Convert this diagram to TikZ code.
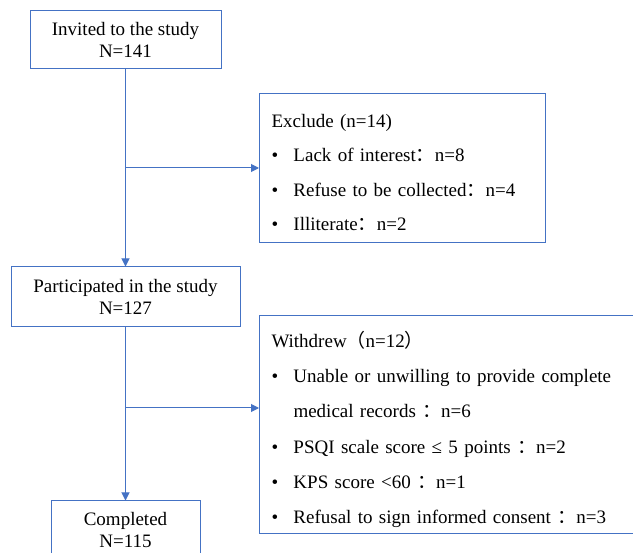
\documentclass[tikz,border=0pt]{standalone}
\usepackage{fontspec}
\setmainfont{Liberation Serif}
\newfontfamily\cjk{Noto Sans CJK SC}
\usetikzlibrary{arrows.meta,positioning}
\definecolor{boxblue}{HTML}{4472C4}
\newcommand{\bul}{\makebox[22pt][l]{\textbullet}}
\newcommand{\cont}{\makebox[22pt][l]{}}
\newcommand{\fc}{{\cjk ：}}
\tikzset{
  flowbox/.style = {draw=boxblue,line width=1pt,align=center,inner sep=0pt,
                    font=\fontsize{19}{22.5}\selectfont},
  sidebox/.style = {draw=boxblue,line width=1pt,align=left,inner xsep=12pt,
                    inner ysep=0pt,anchor=north west},
  flowarr/.style = {-{Triangle[length=8pt,width=8pt]},boxblue,line width=1pt}
}

\begin{document}
\begin{tikzpicture}[x=1pt,y=-1pt]
  \clip (0,0) rectangle (633,553);
  % --- main column
  \node[flowbox,minimum width=191,minimum height=58] (invited) at (125.5,40)
       {Invited to the study\\N=141};
  \node[flowbox,minimum width=229,minimum height=60,below=197pt of invited] (particip)
       {Participated in the study\\N=127};
  \node[flowbox,minimum width=149,minimum height=58,below=173pt of particip] (completed)
       {Completed\\N=115};
  % --- side boxes (first-line strut pushes the list down a little)
  \node[sidebox,text width=262pt,minimum height=149,
        font=\fontsize{19}{34.5}\selectfont] (exclude) at (259,93)
       {\rule{0pt}{22pt}Exclude (n=14)\\
        \bul Lack of interest\fc n=8\\
        \bul Refuse to be collected\fc n=4\\
        \bul Illiterate\fc n=2};
  \node[sidebox,text width=361pt,minimum height=218,
        font=\fontsize{19}{35.2}\selectfont] (withdrew) at (259,315)
       {\rule{0pt}{26pt}Withdrew{\cjk （}n=12{\cjk ）}\\
        \bul Unable or unwilling to provide complete\\
        \cont medical records \fc n=6\\
        \bul PSQI scale score ≤ 5 points \fc n=2\\
        \bul KPS score <60 \fc n=1\\
        \bul Refusal to sign informed consent \fc n=3};
  % --- connectors
  \coordinate (b1) at (invited.south |- exclude.west);
  \coordinate (b2) at (125.5,408);
  \draw[flowarr] (invited) -- (particip);
  \draw[flowarr] (b1) -- (exclude.west);
  \draw[flowarr] (particip) -- (completed);
  \draw[flowarr] (b2) -- (withdrew.west |- b2);
\end{tikzpicture}
\end{document}
